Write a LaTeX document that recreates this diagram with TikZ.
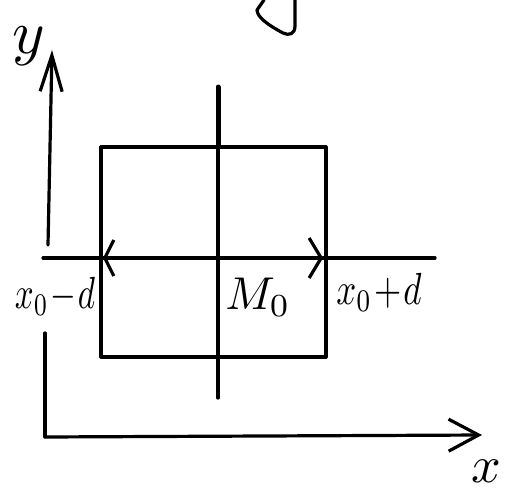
\documentclass[tikz,border=0pt]{standalone}
\usetikzlibrary{arrows.meta}
\begin{document}
\begin{tikzpicture}[x=1pt,y=-1pt,
  stroke/.style={line width=3.2pt,line cap=round,line join=round},
  lbl/.style={inner sep=0pt}]
\useasboundingbox (0,0) rectangle (511,495);
% coordinates
\coordinate (O) at (45,437);
\coordinate (Ylow) at (45,333);
\coordinate (Yhigh) at (48,245);
\coordinate (Ytop) at (52,50);
\coordinate (Xend) at (482,435);
\coordinate (HL) at (43,258);
\coordinate (HR) at (435,258);
\coordinate (M) at (218,258);
\coordinate (Ledge) at (103,258);
\coordinate (Redge) at (323,258);
\coordinate (Ctop) at (218,87);
\coordinate (Crect) at (218,147);
\coordinate (Cbot) at (218,398);
% axes
\draw[stroke] (Ylow) -- (O);
\draw[stroke,-{Straight Barb[length=30pt,width=32pt,line width=3.2pt]}] (O) -- (Xend);
\draw[stroke,-{Straight Barb[length=36pt,width=22pt,line width=3.2pt]}] (Yhigh) -- (Ytop);
% rectangle
\draw[stroke] (101,147) rectangle (326,357);
% centre line
\draw[line width=5pt,line cap=round] (Ctop) -- (Crect);
\draw[stroke] (Crect) -- (Cbot);
% horizontal line with arrows at edges
\draw[stroke] (HL) -- (HR);
\draw[stroke,-{Straight Barb[length=9pt,width=36pt,line width=3.2pt]}] (M) -- (Ledge);
\draw[stroke,-{Straight Barb[length=12pt,width=40pt,line width=3.2pt]}] (M) -- (Redge);
% cut-off glyph at the top
\draw[stroke] (295,0) -- (295,26) .. controls (295,34) and (289,36) .. (283,33)
  .. controls (268,25) and (257,17) .. (257,10) -- (264,0);
% labels
\node[lbl,scale=6.2] (ly) at (29,46) {$y$};
\node[lbl,scale=5.2] (lx) at (486,471) {$x$};
\node[lbl,xscale=3.3,yscale=4.5] (l1) at (55,296) {$x_0\!-\!d$};
\node[lbl,scale=4.6] (l2) at (258,297) {$M_0$};
\node[lbl,xscale=3.5,yscale=4.5] (l3) at (379,292) {$x_0\!+\!d$};
\end{tikzpicture}
\end{document}
